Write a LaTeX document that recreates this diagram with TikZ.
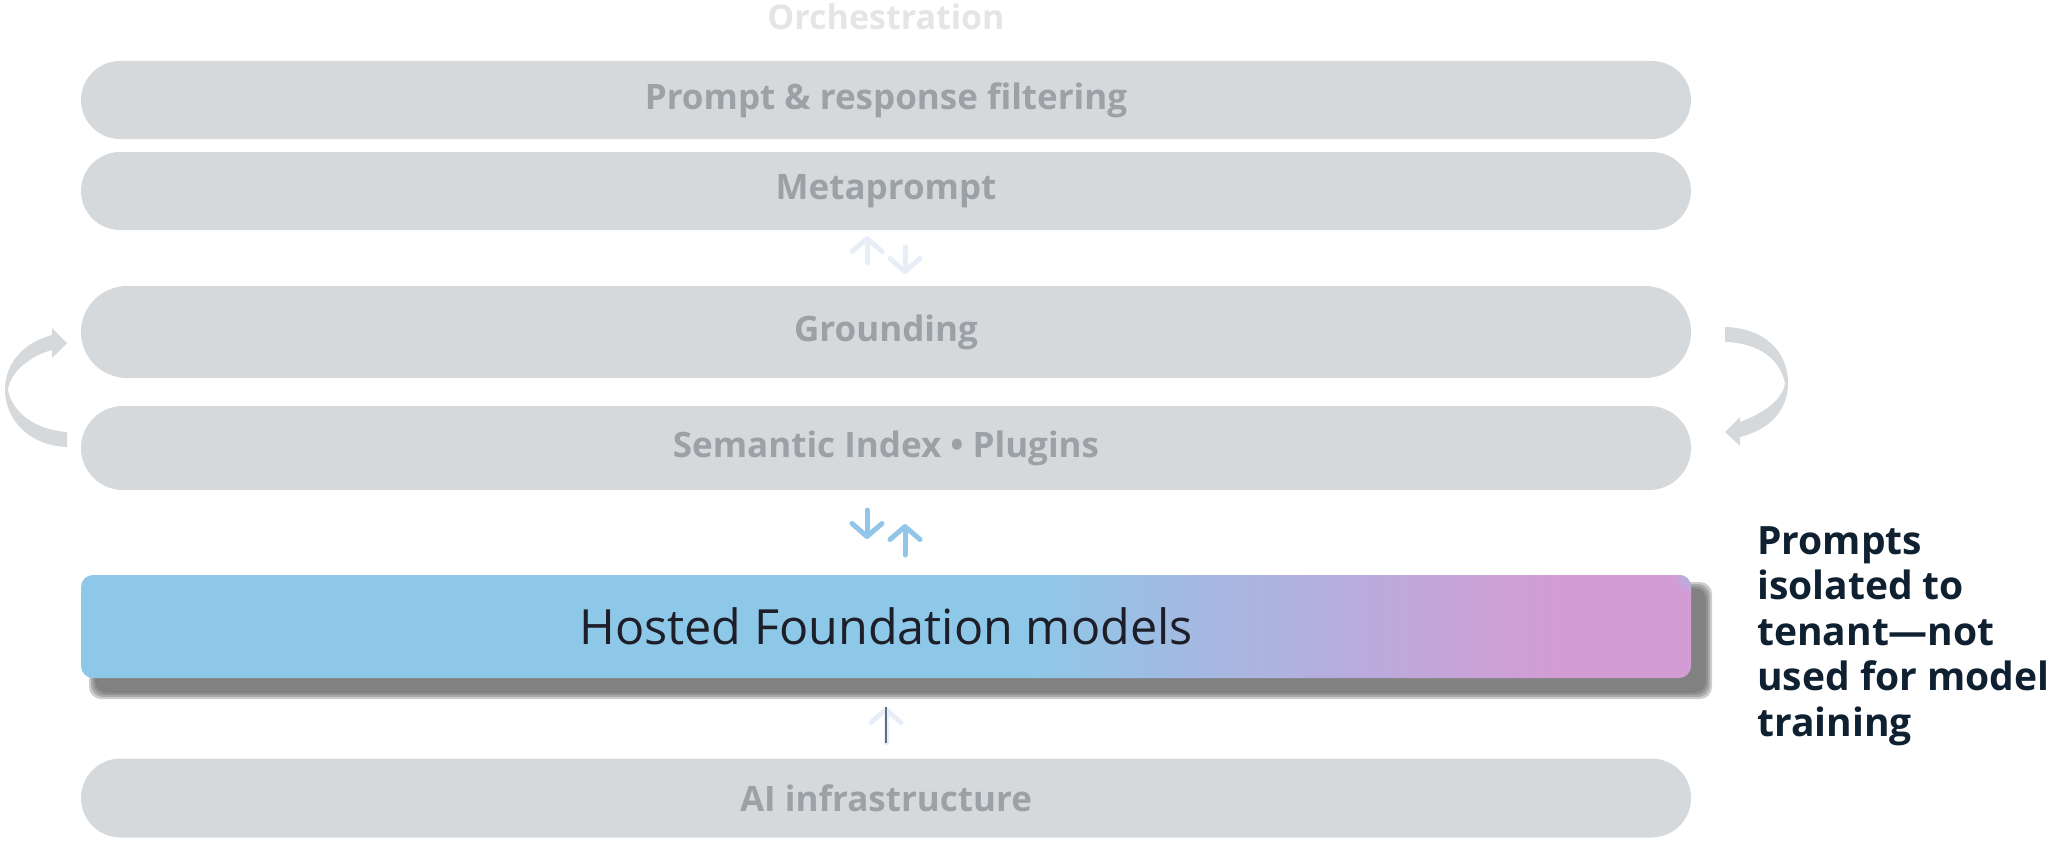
\documentclass[tikz,border=0pt]{standalone}
\usepackage{fontspec}
\setmainfont{Open Sans}
\usetikzlibrary{shapes.misc,arrows.meta}
\definecolor{barfill}{HTML}{D6D9DC}
\definecolor{bartext}{HTML}{9CA1A5}
\definecolor{orchtext}{HTML}{E3E5E7}
\definecolor{hostblue}{HTML}{8EC8E8}
\definecolor{hostlav}{HTML}{B4AEDD}
\definecolor{hostpink}{HTML}{D49CD5}
\definecolor{hosttext}{HTML}{1E1E28}
\definecolor{notetext}{HTML}{0F2131}
\definecolor{paleflow}{HTML}{E8EEF7}
\definecolor{blueflow}{HTML}{92C6E9}
\definecolor{infraline}{HTML}{5F6F80}
\definecolor{shadowgray}{HTML}{5A5A5A}
\pgfdeclarehorizontalshading{hostshade}{100bp}{color(0bp)=(hostblue); color(54.5bp)=(hostblue); color(63.5bp)=(hostlav); color(71bp)=(hostpink); color(100bp)=(hostpink)}
\tikzset{
  layer/.style={rounded rectangle, fill=barfill, text=bartext, inner sep=0pt,
    minimum width=1610pt, font=\bfseries\fontsize{35}{42}\selectfont},
  flow/.style={line width=5pt, line cap=round, -{Straight Barb[length=13pt,width=30pt,round]}},
}
\begin{document}
\begin{tikzpicture}[x=1pt,y=-1pt]
		\def\mid{886} % centre of all layers
		\useasboundingbox (0,0) rectangle (2049,843);
		\node[text=orchtext, font=\bfseries\fontsize{34}{40}\selectfont] (orch) at (\mid,17) {Orchestration};
		\node[layer, minimum height=78pt] (filter) at (\mid,100) {Prompt \& response filtering};
		\node[layer, minimum height=78pt] (meta) at (\mid,191) {Metaprompt};
		\node[layer, minimum height=92pt] (ground) at (\mid,332) {Grounding};
		\node[layer, minimum height=84pt] (index) at (\mid,448) {Semantic Index • Plugins};
		\node[layer, minimum height=79pt] (infra) at (\mid,798) {AI infrastructure};
		% soft shadow under the model layer
		\foreach \r in {7,5,3,1}
			\fill[shadowgray, opacity=0.3, rounded corners=12pt] (96-\r,589-\r) rectangle (1705+\r,692+\r);
		\node[rectangle, rounded corners=12pt, shading=hostshade, minimum width=1610pt, minimum height=103pt,
			inner sep=0pt] (hosted) at (\mid,626.5) {};
		\begin{scope}
			\clip[rounded corners=12pt] (hosted.north west) rectangle (hosted.south east);
			\shade[inner color=hostblue, outer color=hostpink] (1698,568) circle (28);
		\end{scope}
		\node[text=hosttext, font=\fontsize{48.5}{58}\selectfont] (hostlabel) at (hosted) {Hosted Foundation models};
		\node[anchor=north west, inner sep=0pt, align=left, text=notetext,
			font=\bfseries\fontsize{39}{45.5}\selectfont] (note) at (1757,526) {Prompts\\isolated to\\tenant—not\\used for model\\training};
		% loop arrows
		\fill[barfill] (67,447) .. controls (30,446) and (5,420) .. (5,390) .. controls (5,362) and (25,342) .. (52,335)
			-- (52,328) -- (67,343) -- (52,358) -- (52,350) .. controls (30,356) and (10,372) .. (8,390)
			.. controls (12,412) and (35,430) .. (67,432) -- cycle;
		\fill[barfill] (1725,327) .. controls (1765,328) and (1788,352) .. (1788,383) .. controls (1788,412) and (1768,430) .. (1740,437)
			-- (1740,446) -- (1725,432) -- (1740,417) -- (1740,422) .. controls (1762,414) and (1783,400) .. (1785,383)
			.. controls (1780,360) and (1760,343) .. (1725,342) -- cycle;
		% flow arrows between layers
		\coordinate (mUpA) at (867,263); \coordinate (mUpB) at (867,236);
		\coordinate (mDnA) at (905,247); \coordinate (mDnB) at (905,274);
		\coordinate (hDnA) at (867,510); \coordinate (hDnB) at (867,539);
		\coordinate (hUpA) at (905,555); \coordinate (hUpB) at (905,524);
		\coordinate (iUpA) at (\mid,743); \coordinate (iUpB) at (\mid,707);
		\draw[flow, paleflow] (mUpA) -- (mUpB);
		\draw[flow, paleflow] (mDnA) -- (mDnB);
		\draw[flow, blueflow] (hDnA) -- (hDnB);
		\draw[flow, blueflow] (hUpA) -- (hUpB);
		\draw[flow, paleflow] (iUpA) -- (iUpB);
		\draw[infraline, line width=1.5pt] (iUpA) -- (iUpB);
\end{tikzpicture}
\end{document}
